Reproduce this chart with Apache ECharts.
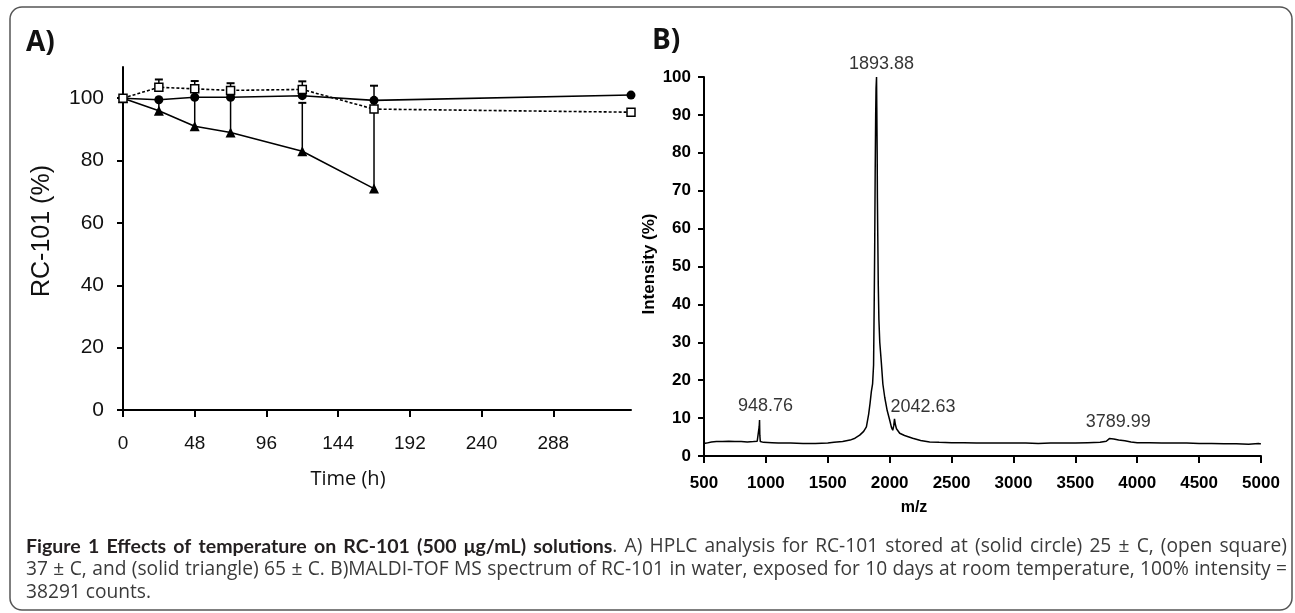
<!DOCTYPE html>
<html><head><meta charset="utf-8">
<script src="https://cdn.jsdelivr.net/npm/echarts@6/dist/echarts.min.js"></script>
<style>html,body{margin:0;padding:0;background:#fff}#c{width:1295px;height:613px}</style>
</head><body><div id="c"></div>
<script>
// ---------- Panel A data ----------
const timeH = [0, 24, 48, 72, 120, 168, 340];
const timeTicks = [0, 48, 96, 144, 192, 240, 288];
const rcTicks = [0, 20, 40, 60, 80, 100];
const circle25 = [100, 99.5, 100.3, 100.3, 100.8, 99.3, 101];
const square37 = [100, 103.5, 103, 102.5, 102.8, 96.5, 95.5];
const triangle65 = [100, 96, 91, 89, 83, 71];
const square37Err = [0, 2.5, 2.5, 2.3, 2.6, 0, 0];
const triangle65Err = [0, 3.5, 9, 11, 15.5, 33];

// ---------- Panel B data ----------
const spectrum = [
[500,3.3],[520,3.4],[560,3.7],[600,3.8],[650,3.8],[700,3.9],[750,3.8],[800,3.8],[850,3.7],[900,3.8],
[930,3.9],[942,4.3],[946,7.8],[948.76,9.5],[951,5.5],[955,3.8],[980,3.6],[1050,3.5],[1100,3.4],[1200,3.4],
[1300,3.3],[1400,3.3],[1500,3.4],[1550,3.6],[1620,3.8],[1680,4.2],[1720,4.7],[1758,5.5],[1790,6.5],[1812,7.7],
[1830,11],[1842,14],[1852,17],[1862,19],[1870,24],[1875,40],[1879,55],[1883,75],[1887,90],[1890,97],
[1893.88,100],[1896,92],[1899,80],[1901,68],[1904,58],[1908,45],[1913,36],[1920,30],[1933,24.5],[1945,19],
[1960,15.5],[1980,12],[2000,9.5],[2015,7.5],[2025,6.8],[2033,8],[2039,9.8],[2042.63,10.2],[2046,8.3],[2055,7.2],
[2081,6],[2120,5.4],[2186,4.7],[2250,4.1],[2323,3.7],[2400,3.6],[2500,3.5],[2600,3.5],[2700,3.4],[2800,3.4],
[2900,3.4],[3000,3.4],[3100,3.4],[3200,3.3],[3300,3.4],[3400,3.4],[3500,3.4],[3600,3.5],[3700,3.6],[3750,3.9],
[3775,4.6],[3790,5.0],[3810,4.5],[3850,4.2],[3900,4.0],[3950,3.7],[4000,3.5],[4100,3.5],[4200,3.4],[4300,3.4],
[4400,3.4],[4500,3.3],[4600,3.3],[4700,3.2],[4800,3.2],[4900,3.1],[4980,3.3],[5000,3.2]
];
const peakMz = [1893.88, 948.76, 2042.63, 3789.99];
const peakInt = [100, 9.5, 10.2, 5.0];

// ---------- caption ----------
const captionBold = 'Figure 1 Effects of temperature on RC-101 (500 μg/mL) solutions';
const captionLine1 = '. A) HPLC analysis for RC-101 stored at (solid circle) 25 ± C, (open square)';
const captionLine2 = '37 ± C, and (solid triangle) 65 ± C. B)MALDI-TOF MS spectrum of RC-101 in water, exposed for 10 days at room temperature, 100% intensity =';
const captionLine3 = '38291 counts.';

const chart = echarts.init(document.getElementById('c'), null, {renderer: 'canvas'});
const AX = {color: '#000', width: 2};
const arial = '"Liberation Sans", Arial, sans-serif';
const capFont = '"Open Sans", sans-serif';
const capBoldFont = 'Lato, "Open Sans", sans-serif';

function errSeries(xs, ys, errs) {
  const data = [];
  ys.forEach((y, i) => { if (errs[i] > 0) data.push([xs[i], y, y + errs[i]]); });
  return {
    type: 'custom', xAxisIndex: 0, yAxisIndex: 0, z: 1, silent: true,
    encode: {x: 0, y: [1, 2]}, data,
    renderItem(params, api) {
      const p0 = api.coord([api.value(0), api.value(1)]);
      const p1 = api.coord([api.value(0), api.value(2)]);
      return {type: 'group', children: [
        {type: 'line', shape: {x1: p0[0], y1: p0[1], x2: p1[0], y2: p1[1]}, style: {stroke: '#000', lineWidth: 1.5}},
        {type: 'line', shape: {x1: p1[0] - 4, y1: p1[1], x2: p1[0] + 4, y2: p1[1]}, style: {stroke: '#000', lineWidth: 2}}
      ]};
    }
  };
}

// caption font sizing (layout only) and justified lines
const mctx = document.createElement('canvas').getContext('2d');
function fontStr(bold, size) { return bold ? ('bold ' + size.toFixed(2) + 'px ' + capBoldFont) : (size.toFixed(2) + 'px ' + capFont); }
function measure(text, bold, size) { mctx.font = fontStr(bold, size); return mctx.measureText(text).width; }
const regSize = 16 * 1250 / measure(captionLine2, false, 16);
const boldSize = regSize * 1.02;

function justify(segs, x0, x1, y) {
  const items = [];
  segs.forEach((s, si) => s.text.split(' ').forEach((w, k) => {
    if (!w.length) return;
    const part = {w, bold: s.bold, size: s.bold ? boldSize : regSize};
    if (k === 0 && si > 0 && items.length) items[items.length - 1].parts.push(part);
    else items.push({parts: [part]});
  }));
  let total = 0;
  items.forEach(it => { it.w = it.parts.reduce((a, p) => a + measure(p.w, p.bold, p.size), 0); total += it.w; });
  const gap = (items.length > 1 && x1) ? (x1 - x0 - total) / (items.length - 1) : regSize * 0.26;
  const els = [];
  let x = x0;
  items.forEach(it => {
    let xx = x;
    it.parts.forEach(p => {
      els.push({type: 'text', x: xx, y, style: {text: p.w, font: fontStr(p.bold, p.size), fill: p.bold ? '#231f20' : '#3a3a3a', verticalAlign: 'middle', align: 'left'}});
      xx += measure(p.w, p.bold, p.size);
    });
    x += it.w + gap;
  });
  return els;
}

const captionEls = [].concat(
  justify([{text: captionBold, bold: true}, {text: captionLine1, bold: false}], 26, 1287, 547),
  justify([{text: captionLine2, bold: false}], 26, 1287, 570),
  justify([{text: captionLine3, bold: false}], 26, null, 593)
);

const peakOffsets = [[5, 0], [6, 0], [28, 0], [7, 0]];
const peakDist = [4, 5, 1, 6];

const option = {
  animation: false,
  backgroundColor: '#fff',
  grid: [
    {left: 123, top: 67, width: 508, height: 343, containLabel: false},
    {left: 704, top: 77, width: 557, height: 379, containLabel: false}
  ],
  xAxis: [
    {gridIndex: 0, type: 'value', min: 0, max: 340,
     axisLine: {lineStyle: AX}, splitLine: {show: false},
     axisTick: {show: true, length: 7, lineStyle: AX, customValues: timeTicks},
     axisLabel: {customValues: timeTicks, color: '#111', fontFamily: arial, fontSize: 19, margin: 24}},
    {gridIndex: 1, type: 'value', min: 500, max: 5000, interval: 500,
     axisLine: {lineStyle: AX}, splitLine: {show: false},
     axisTick: {show: true, length: 7, lineStyle: AX},
     axisLabel: {color: '#000', fontFamily: arial, fontWeight: 'bold', fontSize: 17, margin: 19,
                 formatter: v => String(v)}}
  ],
  yAxis: [
    {gridIndex: 0, type: 'value', min: 0, max: 110,
     axisLine: {show: true, lineStyle: AX}, splitLine: {show: false},
     axisTick: {show: true, length: 6, inside: false, lineStyle: AX, customValues: rcTicks},
     axisLabel: {customValues: rcTicks, color: '#111', fontFamily: arial, fontSize: 21, margin: 19}},
    {gridIndex: 1, type: 'value', min: 0, max: 100, interval: 10,
     axisLine: {show: true, lineStyle: AX}, splitLine: {show: false},
     axisTick: {show: true, length: 6, lineStyle: AX},
     axisLabel: {color: '#000', fontFamily: arial, fontWeight: 'bold', fontSize: 17, margin: 13,
                 formatter: v => String(v)}}
  ],
  series: [
    errSeries(timeH, triangle65, triangle65Err),
    errSeries(timeH, square37, square37Err),
    {type: 'line', name: '65', xAxisIndex: 0, yAxisIndex: 0, z: 3,
     data: triangle65.map((v, i) => [timeH[i], v]),
     symbol: 'triangle', symbolSize: 10, itemStyle: {color: '#000'},
     lineStyle: {color: '#000', width: 1.6}},
    {type: 'line', name: '25', xAxisIndex: 0, yAxisIndex: 0, z: 4,
     data: circle25.map((v, i) => [timeH[i], v]),
     symbol: 'circle', symbolSize: 9, itemStyle: {color: '#000'},
     lineStyle: {color: '#000', width: 1.6}},
    {type: 'line', name: '37', xAxisIndex: 0, yAxisIndex: 0, z: 5,
     data: square37.map((v, i) => [timeH[i], v]),
     symbol: 'rect', symbolSize: 8, itemStyle: {color: '#fff', borderColor: '#000', borderWidth: 1.5},
     lineStyle: {color: '#000', width: 1.6, type: [3, 2]}},
    {type: 'line', xAxisIndex: 1, yAxisIndex: 1, data: spectrum, showSymbol: false, symbol: 'none',
     lineStyle: {color: '#000', width: 1.5}},
    {type: 'scatter', xAxisIndex: 1, yAxisIndex: 1, symbolSize: 0, silent: true,
     data: peakMz.map((m, i) => ({value: [m, peakInt[i]],
       label: {show: true, position: 'top', distance: peakDist[i], offset: peakOffsets[i],
               formatter: m.toFixed(2), color: '#000', fontFamily: arial, fontSize: 18}}))}
  ],
  graphic: [
    {type: 'rect', shape: {x: 10, y: 7, width: 1282, height: 603, r: 12}, style: {fill: 'none', stroke: '#555', lineWidth: 1.5}, z: 0},
    {type: 'text', x: 26, y: 43, style: {text: 'A)', font: 'bold 28px "Open Sans", sans-serif', fill: '#111', verticalAlign: 'middle'}},
    {type: 'text', x: 652, y: 41, style: {text: 'B)', font: 'bold 28px "Open Sans", sans-serif', fill: '#111', verticalAlign: 'middle'}},
    {type: 'text', x: 42, y: 231, rotation: Math.PI / 2, style: {text: 'RC-101 (%)', font: '25px ' + arial, fill: '#111', align: 'center', verticalAlign: 'middle'}},
    {type: 'text', x: 348, y: 479, style: {text: 'Time (h)', font: '20px "Open Sans", sans-serif', fill: '#111', align: 'center', verticalAlign: 'middle'}},
    {type: 'text', x: 649, y: 264, rotation: Math.PI / 2, style: {text: 'Intensity (%)', font: 'bold 17px ' + arial, fill: '#000', align: 'center', verticalAlign: 'middle'}},
    {type: 'text', x: 914, y: 508, style: {text: 'm/z', font: 'bold 16px ' + arial, fill: '#000', align: 'center', verticalAlign: 'middle'}}
  ].concat(captionEls)
};
chart.setOption(option);
</script>
</body></html>
